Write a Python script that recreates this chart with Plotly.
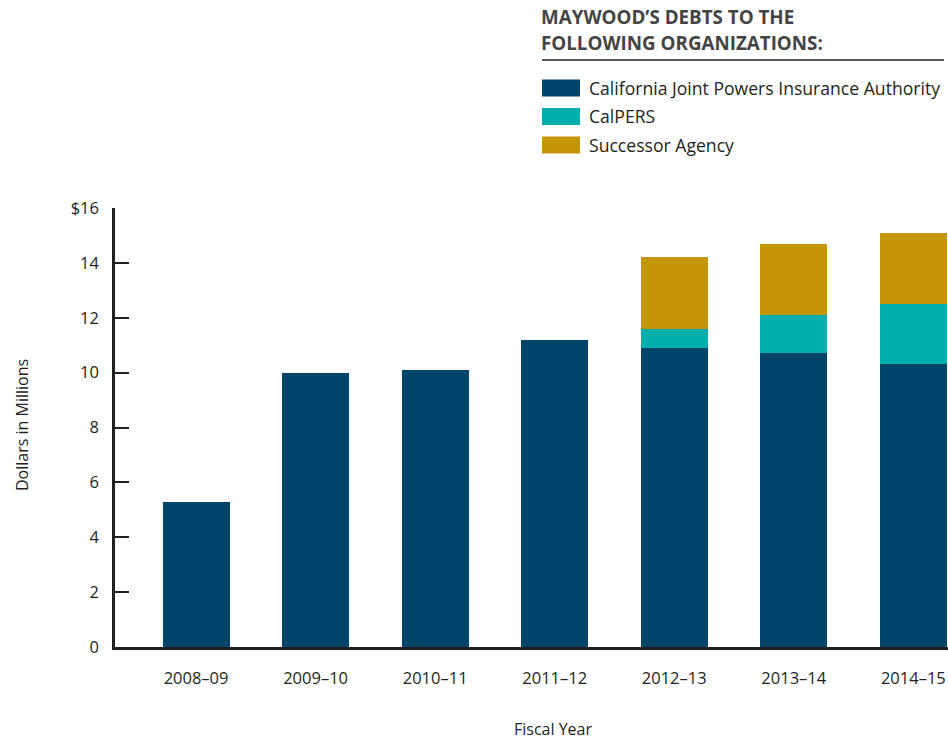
import plotly.graph_objects as go

years = ["2008–09", "2009–10", "2010–11", "2011–12", "2012–13", "2013–14", "2014–15"]
jpia = [5.3, 10.0, 10.1, 11.2, 10.9, 10.7, 10.3]
calpers = [0, 0, 0, 0, 0.7, 1.4, 2.2]
successor = [0, 0, 0, 0, 2.6, 2.6, 2.6]
series_names = ["California Joint Powers Insurance Authority", "CalPERS", "Successor Agency"]
colors = ["#00446A", "#00AEAE", "#C59509"]
ytick_vals = [0, 2, 4, 6, 8, 10, 12, 14, 16]
ytick_text = ["0", "2", "4", "6", "8", "10", "12", "14", "$16"]
legend_title = ["MAYWOOD’S DEBTS TO THE", "FOLLOWING ORGANIZATIONS:"]

FONT = "Open Sans"
TXT = "#231F20"

fig = go.Figure()
for name, vals, col in zip(series_names, [jpia, calpers, successor], colors):
    fig.add_trace(go.Bar(x=years, y=vals, name=name, marker=dict(color=col, line=dict(width=0)),
                         width=0.56, showlegend=False))

fig.update_layout(
    width=948, height=740,
    barmode="stack",
    plot_bgcolor="white", paper_bgcolor="white",
    margin=dict(l=115, r=0, t=208, b=93),
    font=dict(family=FONT, color=TXT, size=16),
    showlegend=False,
)
fig.update_xaxes(
    range=[-0.678, 6.29], showgrid=False, zeroline=False,
    showline=True, linecolor=TXT, linewidth=2.5,
    ticks="", ticklabelstandoff=14,
    tickfont=dict(size=16.5, family=FONT, color=TXT),
)
fig.update_yaxes(
    range=[0, 16], tickvals=ytick_vals, ticktext=ytick_text,
    showgrid=False, zeroline=False,
    showline=True, linecolor=TXT, linewidth=2.5,
    ticks="inside", ticklen=14, tickwidth=1.5, tickcolor=TXT,
    ticklabelstandoff=10,
    tickfont=dict(size=16.5, family=FONT, color=TXT),
)

def px(xp):
    return (xp - 115) / 833
def py(yp):
    return (647 - yp) / 439

# axis titles
fig.add_annotation(text="Dollars in Millions", xref="paper", yref="paper",
                   x=px(9), y=py(425), xanchor="left", yanchor="middle",
                   textangle=-90, showarrow=False, font=dict(size=16, family=FONT, color=TXT))
fig.add_annotation(text="Fiscal Year", xref="paper", yref="paper",
                   x=px(553), y=py(729), xanchor="center", yanchor="middle",
                   showarrow=False, font=dict(size=16, family=FONT, color=TXT))

# legend (manual)
for i, line in enumerate(legend_title):
    fig.add_annotation(text="<b>" + line + "</b>",
                       xref="paper", yref="paper", x=px(539), y=py(17 + i * 26), xanchor="left",
                       yanchor="middle", align="left", showarrow=False,
                       font=dict(size=18.8, family=FONT, color="#444444"))
fig.add_shape(type="line", xref="paper", yref="paper", x0=px(542), x1=px(944), y0=py(60), y1=py(60),
              line=dict(color=TXT, width=1.5))
for i, (name, col) in enumerate(zip(series_names, colors)):
    yc = 88 + i * 28.5
    fig.add_shape(type="rect", xref="paper", yref="paper", x0=px(542), x1=px(580),
                  y0=py(yc - 8.5), y1=py(yc + 8.5), line=dict(width=0), fillcolor=col)
    fig.add_annotation(text=name, xref="paper", yref="paper", x=px(587), y=py(yc),
                       xanchor="left", yanchor="middle", showarrow=False,
                       font=dict(size=17.6, family=FONT, color=TXT))

fig.write_html("out.html")
